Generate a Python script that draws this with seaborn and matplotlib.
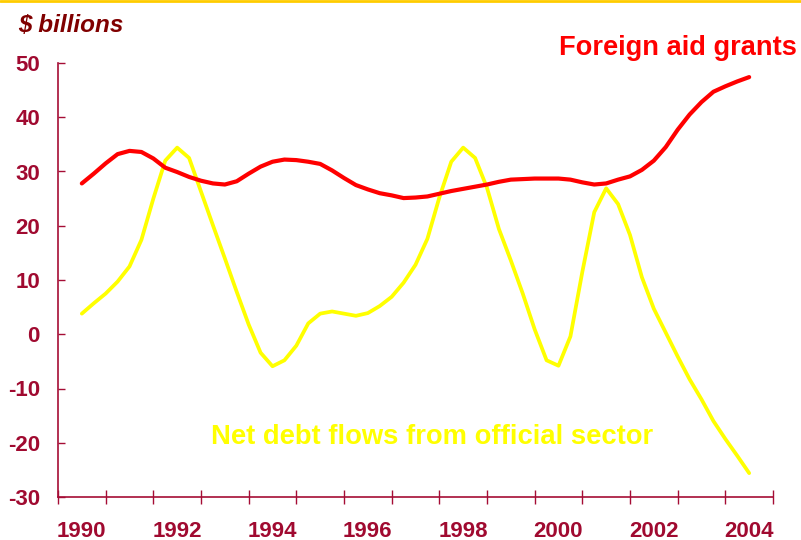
import numpy as np
import pandas as pd
import matplotlib
matplotlib.use("Agg")
import matplotlib.pyplot as plt
from matplotlib.lines import Line2D
from matplotlib.ticker import FixedLocator, NullFormatter
import seaborn as sns

# Quarterly observations, 1990Q1 .. 2004Q1 ($ billions)
quarters = np.arange(1990.0, 2004.01, 0.25)

aid_grants = [
    27.8, 29.6, 31.5, 33.2, 33.8, 33.6, 32.4, 30.7,
    29.9, 29.0, 28.3, 27.8, 27.6, 28.2, 29.6, 30.9,
    31.8, 32.2, 32.1, 31.8, 31.4, 30.2, 28.8, 27.5,
    26.7, 26.0, 25.6, 25.1, 25.2, 25.4, 25.9, 26.4,
    26.8, 27.2, 27.6, 28.1, 28.5, 28.6, 28.7, 28.7,
    28.7, 28.5, 28.0, 27.6, 27.8, 28.5, 29.1, 30.3,
    32.0, 34.5, 37.7, 40.5, 42.8, 44.7, 45.7, 46.6,
    47.4,
]

net_debt_flows = [
    3.8, 5.7, 7.5, 9.7, 12.5, 17.4, 25.0, 32.0,
    34.4, 32.5, 26.3, 20.1, 14.0, 7.8, 1.8, -3.4,
    -5.9, -4.8, -2.1, 2.0, 3.8, 4.2, 3.8, 3.4,
    3.9, 5.2, 6.9, 9.5, 12.8, 17.6, 25.2, 31.8,
    34.4, 32.5, 27.0, 19.4, 13.6, 7.5, 0.9, -4.8,
    -5.8, -0.4, 11.5, 22.5, 26.9, 24.0, 18.3, 10.5,
    4.7, 0.3, -4.1, -8.3, -12.0, -16.0, -19.3, -22.4,
    -25.6,
]

year_labels = ["1990", "1992", "1994", "1996", "1998", "2000", "2002", "2004"]
y_ticks = [-30, -20, -10, 0, 10, 20, 30, 40, 50]

series_names = ["Foreign aid grants", "Net debt flows from official sector"]
series_colors = ["#FF0000", "#FFFF00"]

df = pd.DataFrame({
    "year": np.concatenate([quarters, quarters]),
    "value": aid_grants + net_debt_flows,
    "series": [series_names[0]] * len(quarters) + [series_names[1]] * len(quarters),
})

sns.set_style("white")
plt.rcParams["font.family"] = ["Liberation Sans", "DejaVu Sans"]
plt.rcParams["axes.unicode_minus"] = False

axis_color = "#A50D35"
label_color = "#A00A30"

fig = plt.figure(figsize=(8.01, 5.40), dpi=100)
ax = fig.add_axes([58 / 801, 43 / 540, (773 - 58) / 801, (497 - 63) / 540])

sns.lineplot(data=df[df.series == series_names[1]], x="year", y="value",
             color=series_colors[1], linewidth=2.7, ax=ax, legend=False)
sns.lineplot(data=df[df.series == series_names[0]], x="year", y="value",
             color=series_colors[0], linewidth=3.0, ax=ax, legend=False)

ax.set_xlim(1989.5, 2004.5)
ax.set_ylim(-30, 50)

# x: labels at even years, tick marks at category boundaries
ax.xaxis.set_major_locator(FixedLocator([int(s) for s in year_labels]))
ax.set_xticklabels(year_labels)
ax.xaxis.set_minor_locator(FixedLocator(np.arange(1989.5, 2004.6, 1.0)))
ax.xaxis.set_minor_formatter(NullFormatter())
ax.tick_params(axis="x", which="both", bottom=True)
ax.tick_params(axis="x", which="major", length=0, pad=17)
ax.tick_params(axis="x", which="minor", direction="inout", length=10,
               width=1.0, color=axis_color)

ax.yaxis.set_major_locator(FixedLocator(y_ticks))
ax.tick_params(axis="y", which="major", left=True, direction="in", length=5,
               width=1.0, color=axis_color, pad=13)

for lab in ax.get_xticklabels() + ax.get_yticklabels():
    lab.set_fontsize(16)
    lab.set_fontweight("bold")
    lab.set_color(label_color)

ax.set_xlabel("")
ax.set_ylabel("")
for side in ("top", "right"):
    ax.spines[side].set_visible(False)
for side in ("left", "bottom"):
    ax.spines[side].set_color(axis_color)
    ax.spines[side].set_linewidth(1.2)
ax.set_facecolor("white")

# Unit label
fig.text(18 / 801, 1 - 32 / 540, "$ billions", fontsize=17.5, fontweight="bold",
         fontstyle="italic", color="#800000", ha="left", va="baseline")

# Series labels
fig.text(559 / 801, 1 - 55 / 540, series_names[0], fontsize=19.6,
         fontweight="bold", color=series_colors[0], ha="left", va="baseline")
fig.text(211 / 801, 1 - 444 / 540, series_names[1], fontsize=19.7,
         fontweight="bold", color=series_colors[1], ha="left", va="baseline")

# Gold rule along the top edge
fig.add_artist(Line2D([0, 1], [0.998, 0.998], transform=fig.transFigure,
                      color="#FFCC00", linewidth=2.0))

fig.savefig("out.png", dpi=100, facecolor="white")
